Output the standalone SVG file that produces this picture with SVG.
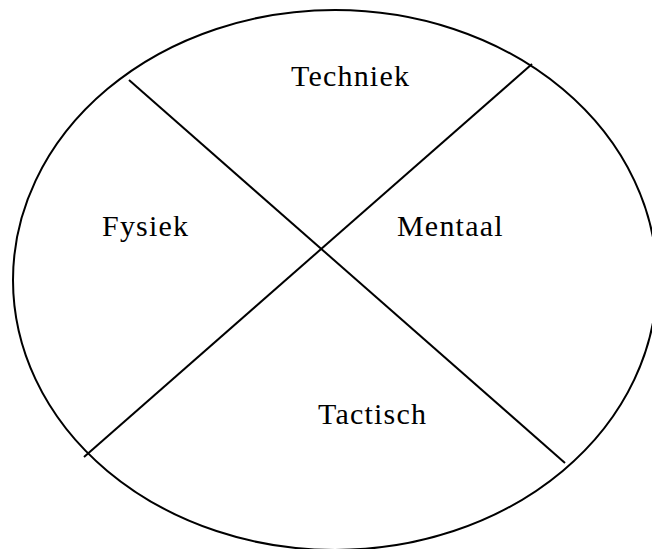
<svg xmlns="http://www.w3.org/2000/svg" width="652" height="549" viewBox="0 0 652 549">
<style>
.shape{fill:none;stroke:#000;stroke-width:2}
.lbl{font-family:"Liberation Serif","Times New Roman",serif;font-size:30px;letter-spacing:1.2px;fill:#000}
</style>
<rect width="652" height="549" fill="#fff"/>
<g id="ellipse"><ellipse class="shape" cx="335" cy="280" rx="322" ry="270"/></g>
<g id="connectors">
<line class="shape" x1="129" y1="80" x2="565" y2="463"/>
<line class="shape" x1="532" y1="64" x2="84" y2="457"/>
</g>
<g id="techniek"><text class="lbl" x="291" y="86">Techniek</text></g>
<g id="fysiek"><text class="lbl" x="102" y="236">Fysiek</text></g>
<g id="mentaal"><text class="lbl" x="397" y="236">Mentaal</text></g>
<g id="tactisch"><text class="lbl" x="318" y="424">Tactisch</text></g>
</svg>
